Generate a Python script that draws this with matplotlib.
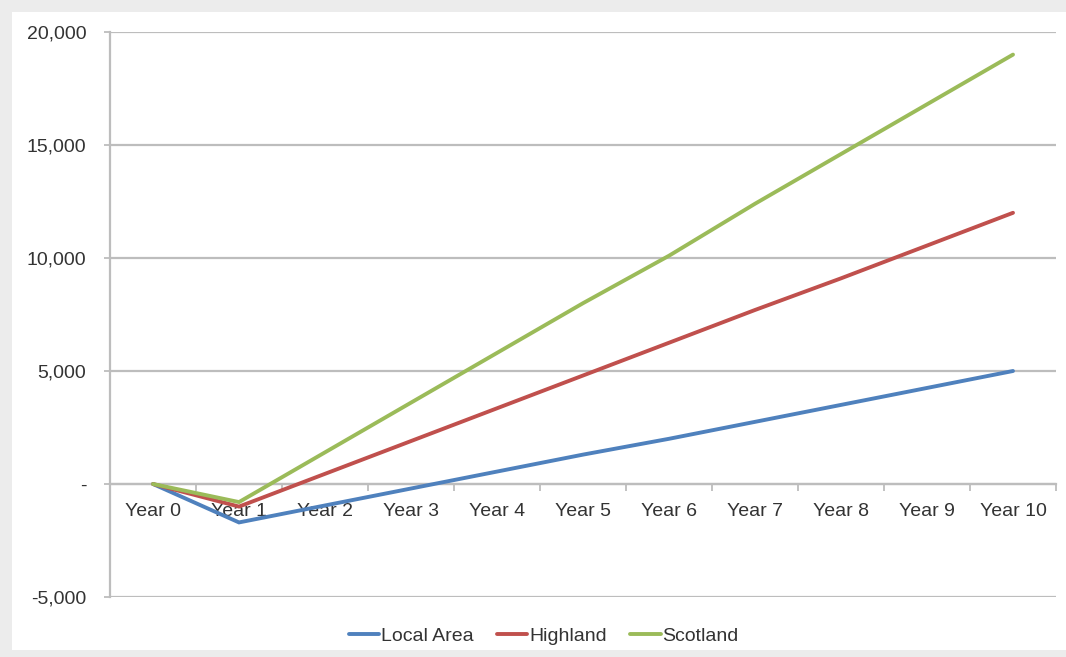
import matplotlib
matplotlib.use("Agg")
import matplotlib.pyplot as plt
from matplotlib.patches import Rectangle
from matplotlib.ticker import FuncFormatter, FixedLocator

plt.rcParams['font.family'] = ['Liberation Sans', 'DejaVu Sans']

years = ["Year 0", "Year 1", "Year 2", "Year 3", "Year 4", "Year 5",
         "Year 6", "Year 7", "Year 8", "Year 9", "Year 10"]
local_area = [0, -1700, -950, -200, 550, 1300, 2000, 2750, 3500, 4250, 5000]
highland = [0, -1000, 450, 1900, 3350, 4800, 6250, 7700, 9100, 10550, 12000]
scotland = [0, -800, 1400, 3600, 5800, 8000, 10100, 12400, 14600, 16800, 19000]
y_ticks = [-5000, 0, 5000, 10000, 15000, 20000]

W, H = 1066, 657
fig = plt.figure(figsize=(W / 100, H / 100), dpi=100, facecolor="#ececec")
fig.patches.append(Rectangle((12 / W, 7 / H), 1 - 12 / W, 1 - 19 / H,
                             transform=fig.transFigure, facecolor="white",
                             edgecolor="none", zorder=-5))

ax = fig.add_axes([110 / W, 1 - 597 / H, (1056 - 110) / W, (597 - 32) / H])
ax.set_facecolor("none")

x = list(range(len(years)))
series = [("Local Area", local_area, "#4F81BD"),
          ("Highland", highland, "#C0504D"),
          ("Scotland", scotland, "#9BBB59")]
for name, vals, col in series:
    ax.plot(x, vals, color=col, lw=2.8, label=name, solid_capstyle="round",
            solid_joinstyle="miter", zorder=3)

ax.set_xlim(-0.5, len(years) - 0.5)
ax.set_ylim(-5000, 20000)

grid_col = "#bdbdbd"
text_col = "#333333"
ax.yaxis.set_major_locator(FixedLocator(y_ticks))
ax.yaxis.set_major_formatter(FuncFormatter(lambda v, p: "-" if v == 0 else f"{int(v):,}"))
ax.grid(axis="y", color=grid_col, lw=1.6, zorder=1)
ax.tick_params(axis="y", length=4, width=1.3, color=grid_col, labelsize=14,
               labelcolor=text_col, pad=13)

ax.set_xticks(x)
ax.set_xticklabels(years)
ax.set_xticks([i + 0.5 for i in range(len(years))], minor=True)
ax.tick_params(axis="x", which="major", length=0, labelsize=14,
               labelcolor=text_col, pad=14)
ax.tick_params(axis="x", which="minor", length=5, width=1.3, color=grid_col,
               direction="out")

for s in ("top", "right"):
    ax.spines[s].set_visible(False)
ax.spines["bottom"].set_position(("data", 0))
ax.spines["bottom"].set_color(grid_col)
ax.spines["bottom"].set_linewidth(1.6)
ax.spines["left"].set_color(grid_col)
ax.spines["left"].set_linewidth(1.6)

fig.legend(loc="center", bbox_to_anchor=(544 / W, 1 - 636 / H), ncol=3,
           frameon=False, fontsize=14, handlelength=1.55, handletextpad=0.1,
           columnspacing=1.2, labelcolor=text_col)

fig.savefig("out.png", dpi=100, facecolor=fig.get_facecolor())
